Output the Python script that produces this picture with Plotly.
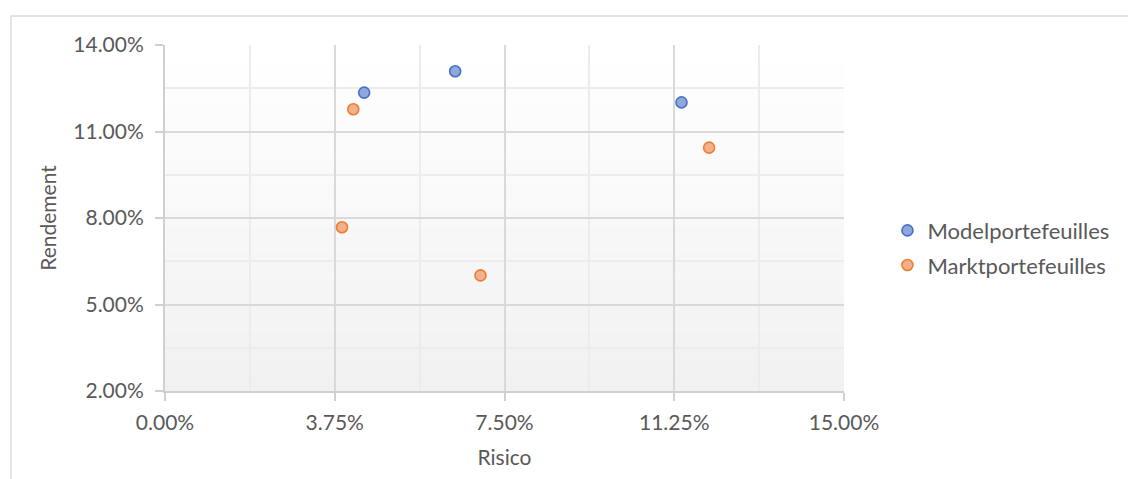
import plotly.graph_objects as go

# Data (fractions)
model_risk = [0.0440, 0.0641, 0.1141]
model_return = [0.1235, 0.1309, 0.1201]
market_risk = [0.0416, 0.0391, 0.0697, 0.1202]
market_return = [0.1177, 0.0768, 0.0601, 0.1044]

series_names = ["Modelportefeuilles", "Marktportefeuilles"]
x_title = "Risico"
y_title = "Rendement"

FONT = "Lato, 'Open Sans', sans-serif"
TXT = "#595959"
FS = 21

fig = go.Figure()
fig.add_trace(go.Scatter(
    x=model_risk, y=model_return, mode="markers", name=series_names[0],
    legendgroup="g1",
    marker=dict(size=11, color="#8fa7dc", line=dict(color="#4472c4", width=1.6)),
))
fig.add_trace(go.Scatter(
    x=market_risk, y=market_return, mode="markers", name=series_names[1],
    legendgroup="g2",
    marker=dict(size=11, color="#f4b08a", line=dict(color="#ed7d31", width=1.6)),
))

# Gradient plot background (white top -> light gray bottom)
shapes = []
n = 40
for i in range(n):
    t = i / (n - 1)
    c = int(round(255 - t * (255 - 241)))
    shapes.append(dict(
        type="rect", xref="x domain", yref="y domain",
        x0=0, x1=1, y0=1 - (i + 1) / n, y1=1 - i / n,
        fillcolor=f"rgb({c},{c},{c})", line=dict(width=0), layer="below",
    ))
# Outer chart border
shapes.append(dict(
    type="rect", xref="paper", yref="paper",
    x0=(11 - 165) / 679, x1=(1135 - 165) / 679,
    y0=(391 - 485) / 346, y1=(391 - 16) / 346,
    line=dict(color="#d9d9d9", width=1.3), fillcolor="rgba(0,0,0,0)", layer="below",
))

fig.update_layout(
    width=1128, height=479,
    margin=dict(l=165, r=284, t=45, b=88),
    paper_bgcolor="white", plot_bgcolor="rgba(0,0,0,0)",
    shapes=shapes,
    font=dict(family=FONT, color=TXT, size=FS),
    showlegend=True,
    legend=dict(
        x=1.064, y=0.413, xanchor="left", yanchor="middle",
        font=dict(size=22, color=TXT, family=FONT),
        itemwidth=30, tracegroupgap=3, bgcolor="rgba(0,0,0,0)",
    ),
)

fig.update_xaxes(
    range=[0, 0.15], tick0=0, dtick=0.0375, tickformat=".2%",
    showgrid=True, gridcolor="#d9d9d9", gridwidth=1.5,
    minor=dict(tick0=0, dtick=0.01875, showgrid=True, gridcolor="#ececec", gridwidth=1.5),
    showline=True, linecolor="#d0d0d0", linewidth=2,
    ticks="outside", ticklen=8, tickcolor="#d0d0d0", tickwidth=2,
    tickfont=dict(size=FS, color=TXT, family=FONT),
    ticklabelstandoff=4,
    title=dict(text=x_title, font=dict(size=FS, color=TXT, family=FONT), standoff=17),
    zeroline=False,
)
fig.update_yaxes(
    range=[0.02, 0.14], tick0=0.02, dtick=0.03, tickformat=".2%",
    showgrid=True, gridcolor="#d9d9d9", gridwidth=1.5,
    minor=dict(tick0=0.02, dtick=0.015, showgrid=True, gridcolor="#ececec", gridwidth=1.5),
    showline=True, linecolor="#d0d0d0", linewidth=2,
    ticks="outside", ticklen=8, tickcolor="#d0d0d0", tickwidth=2,
    tickfont=dict(size=FS, color=TXT, family=FONT),
    ticklabelstandoff=7,
    title=dict(text=y_title, font=dict(size=FS, color=TXT, family=FONT), standoff=11),
    zeroline=False,
)

fig.write_html("out.html")
